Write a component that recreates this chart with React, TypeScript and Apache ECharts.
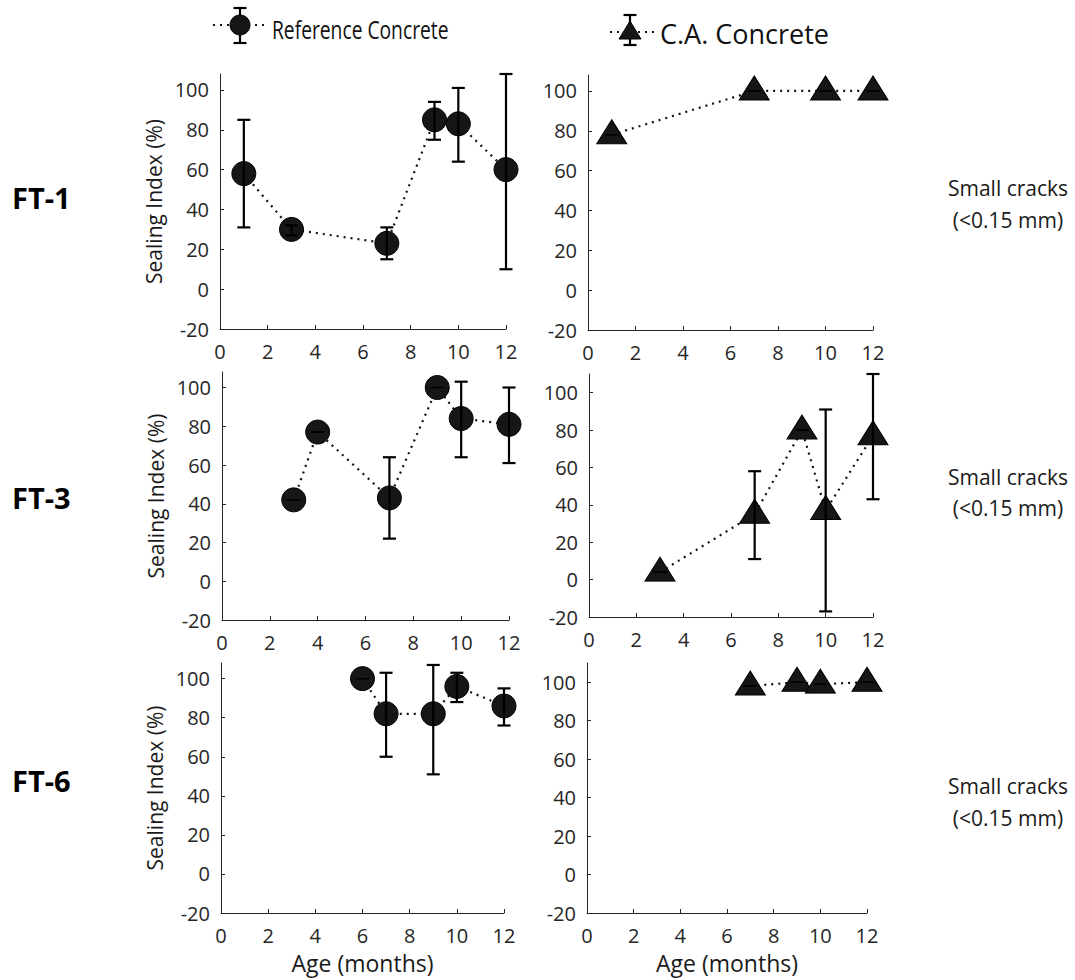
import React, { useEffect, useRef } from "react";
import * as echarts from "echarts";

// ---------- data ----------
const xTickValues = [0, 2, 4, 6, 8, 10, 12];
const yTickValues = [-20, 0, 20, 40, 60, 80, 100];

const rowLabels = ["FT-1", "FT-3", "FT-6"];
const crackLine1 = "Small cracks";
const crackLine2 = "(<0.15 mm)";
const legendRef = "Reference Concrete";
const legendCa = "C.A. Concrete";
const yName = "Sealing Index (%)";
const xName = "Age (months)";

// FT-1
const ft1RefX = [1, 3, 7, 9, 10, 12];
const ft1RefY = [58, 30, 23, 85, 83, 60];
const ft1RefLo = [31, 27, 15, 75, 64, 10];
const ft1RefHi = [85, 32, 31, 94, 101, 108];

const ft1CaX = [1, 7, 10, 12];
const ft1CaY = [78, 100, 100, 100];
const ft1CaLo = [78, 100, 100, 100];
const ft1CaHi = [78, 100, 100, 100];

// FT-3
const ft3RefX = [3, 4, 7, 9, 10, 12];
const ft3RefY = [42, 77, 43, 100, 84, 81];
const ft3RefLo = [42, 77, 22, 100, 64, 61];
const ft3RefHi = [42, 77, 64, 100, 103, 100];

const ft3CaX = [3, 7, 9, 10, 12];
const ft3CaY = [4, 35, 80, 37, 77];
const ft3CaLo = [4, 11, 80, -17, 43];
const ft3CaHi = [4, 58, 80, 91, 110];

// FT-6
const ft6RefX = [6, 7, 9, 10, 12];
const ft6RefY = [100, 82, 82, 96, 86];
const ft6RefLo = [100, 60, 51, 88, 76];
const ft6RefHi = [100, 103, 107, 103, 95];

const ft6CaX = [7, 9, 10, 12];
const ft6CaY = [98, 100, 99, 100];
const ft6CaLo = [98, 100, 99, 100];
const ft6CaHi = [98, 100, 99, 100];

// ---------- layout ----------
type PanelDef = {
  x: number[]; y: number[]; lo: number[]; hi: number[];
  kind: "ref" | "ca";
  left: number; top: number; width: number; height: number;
  ymax: number; showYName: boolean; showXName: boolean;
};

const panels: PanelDef[] = [
  { x: ft1RefX, y: ft1RefY, lo: ft1RefLo, hi: ft1RefHi, kind: "ref", left: 220, top: 74, width: 286, height: 255, ymax: 108, showYName: true, showXName: false },
  { x: ft1CaX, y: ft1CaY, lo: ft1CaLo, hi: ft1CaHi, kind: "ca", left: 588, top: 75, width: 285, height: 255, ymax: 108, showYName: false, showXName: false },
  { x: ft3RefX, y: ft3RefY, lo: ft3RefLo, hi: ft3RefHi, kind: "ref", left: 222, top: 372, width: 287, height: 248, ymax: 108, showYName: true, showXName: false },
  { x: ft3CaX, y: ft3CaY, lo: ft3CaLo, hi: ft3CaHi, kind: "ca", left: 589, top: 374, width: 284, height: 243, ymax: 110, showYName: false, showXName: false },
  { x: ft6RefX, y: ft6RefY, lo: ft6RefLo, hi: ft6RefHi, kind: "ref", left: 221, top: 663, width: 283, height: 250, ymax: 108, showYName: true, showXName: true },
  { x: ft6CaX, y: ft6CaY, lo: ft6CaLo, hi: ft6CaHi, kind: "ca", left: 587, top: 663, width: 280, height: 250, ymax: 110, showYName: false, showXName: true },
];

const FONT = "'Open Sans', 'Noto Sans', sans-serif";
const AXIS_COLOR = "#262626";
const MARK_FILL = "#161616";

function buildOption() {
  const grid: any[] = [];
  const xAxis: any[] = [];
  const yAxis: any[] = [];
  const series: any[] = [];

  panels.forEach((p, i) => {
    grid.push({ left: p.left, top: p.top, width: p.width, height: p.height, containLabel: false });
    xAxis.push({
      type: "value", gridIndex: i, min: 0, max: 12, interval: 2,
      axisLine: { show: true, onZero: false, lineStyle: { color: AXIS_COLOR, width: 1 } },
      axisTick: { show: true, inside: true, length: 4, lineStyle: { color: AXIS_COLOR }, customValues: xTickValues },
      axisLabel: { margin: 12, fontSize: 20, color: AXIS_COLOR, fontFamily: FONT, showMinLabel: true, showMaxLabel: true, customValues: xTickValues },
      splitLine: { show: false },
      name: p.showXName ? xName : "",
      nameLocation: "middle",
      nameGap: 38,
      nameTextStyle: { fontSize: 23, color: "#1a1a1a", fontFamily: FONT },
    });
    yAxis.push({
      type: "value", gridIndex: i, min: -20, max: p.ymax, interval: 20,
      axisLine: { show: true, onZero: false, lineStyle: { color: AXIS_COLOR, width: 1 } },
      axisTick: { show: true, inside: true, length: 4, lineStyle: { color: AXIS_COLOR }, customValues: yTickValues },
      axisLabel: {
        margin: 11, fontSize: 20, color: AXIS_COLOR, fontFamily: FONT,
        customValues: yTickValues,
        formatter: (v: number) => (yTickValues.includes(v) ? String(v) : ""),
      },
      splitLine: { show: false },
      name: p.showYName ? yName : "",
      nameLocation: "middle",
      nameGap: 56,
      nameRotate: 90,
      nameTextStyle: { fontSize: 21, color: "#1a1a1a", fontFamily: FONT },
    });

    const pts = p.x.map((xv, k) => [xv, p.y[k]]);
    series.push({
      type: "line", xAxisIndex: i, yAxisIndex: i, data: pts, symbol: "none",
      lineStyle: { color: "#111", width: 2.2, type: [2, 5] }, z: 1, silent: true,
    });
    series.push({
      type: "scatter", xAxisIndex: i, yAxisIndex: i, data: pts,
      symbol: p.kind === "ref" ? "circle" : "triangle",
      symbolSize: p.kind === "ref" ? 24 : [30, 24],
      symbolOffset: p.kind === "ref" ? [0, 0] : [0, -3],
      itemStyle: { color: MARK_FILL, borderColor: "#000", borderWidth: 1, opacity: 1 },
      z: 2, silent: true,
    });
    const ebData = p.x.map((xv, k) => [xv, p.lo[k], p.hi[k]]);
    series.push({
      type: "custom", xAxisIndex: i, yAxisIndex: i, data: ebData, z: 3, silent: true,
      encode: { x: 0, y: [1, 2] },
      renderItem: (params: any, api: any) => {
        const xv = api.value(0);
        const lo = api.value(1);
        const hi = api.value(2);
        const a = api.coord([xv, lo]);
        const b = api.coord([xv, hi]);
        const hw = 6.5;
        const zero = lo === hi;
        const style = { stroke: "#000", lineWidth: zero ? 1.3 : 2.2 };
        const children: any[] = [
          { type: "line", shape: { x1: a[0] - hw, y1: a[1], x2: a[0] + hw, y2: a[1] }, style },
          { type: "line", shape: { x1: b[0] - hw, y1: b[1], x2: b[0] + hw, y2: b[1] }, style },
        ];
        if (!zero) children.push({ type: "line", shape: { x1: a[0], y1: a[1], x2: b[0], y2: b[1] }, style });
        return { type: "group", children };
      },
    });
  });

  const rowCenters = [197, 497, 780];
  const crackCenters = [[188, 220], [477, 508], [786, 818]];

  const graphic: any[] = [];
  rowLabels.forEach((t, r) => {
    graphic.push({
      type: "text", x: 12, y: rowCenters[r],
      style: { text: t, fontSize: 29, fontWeight: "bold", fill: "#000", fontFamily: FONT, verticalAlign: "middle" },
    });
    graphic.push({
      type: "text", x: 1008, y: crackCenters[r][0],
      style: { text: crackLine1, fontSize: 21, fill: "#1a1a1a", fontFamily: FONT, align: "center", verticalAlign: "middle" },
    });
    graphic.push({
      type: "text", x: 1008, y: crackCenters[r][1],
      style: { text: crackLine2, fontSize: 21, fill: "#1a1a1a", fontFamily: FONT, align: "center", verticalAlign: "middle" },
    });
  });

  // legend item 1: dotted line, error bar, circle
  const dot = { stroke: "#111", lineWidth: 2.2, lineDash: [2, 5] };
  const eb = { stroke: "#000", lineWidth: 2.2 };
  graphic.push({ type: "line", shape: { x1: 213, y1: 25, x2: 268, y2: 25 }, style: dot });
  graphic.push({ type: "line", shape: { x1: 240, y1: 8, x2: 240, y2: 43 }, style: eb });
  graphic.push({ type: "line", shape: { x1: 233.5, y1: 8, x2: 246.5, y2: 8 }, style: eb });
  graphic.push({ type: "line", shape: { x1: 233.5, y1: 43, x2: 246.5, y2: 43 }, style: eb });
  graphic.push({ type: "circle", shape: { cx: 240, cy: 25, r: 10 }, style: { fill: MARK_FILL, stroke: "#000", lineWidth: 1 } });
  graphic.push({
    type: "text", x: 272, y: 29, scaleX: 0.77,
    style: { text: legendRef, fontSize: 25, fill: "#111", fontFamily: FONT, verticalAlign: "middle" },
  });

  // legend item 2: dotted line, error bar, triangle
  graphic.push({ type: "line", shape: { x1: 610, y1: 32, x2: 655, y2: 32 }, style: dot });
  graphic.push({ type: "line", shape: { x1: 630, y1: 15, x2: 630, y2: 45 }, style: eb });
  graphic.push({ type: "line", shape: { x1: 623.5, y1: 15, x2: 636.5, y2: 15 }, style: eb });
  graphic.push({ type: "line", shape: { x1: 623.5, y1: 45, x2: 636.5, y2: 45 }, style: eb });
  graphic.push({ type: "polygon", shape: { points: [[630, 21], [619, 39], [641, 39]] }, style: { fill: MARK_FILL, stroke: "#000", lineWidth: 1 } });
  graphic.push({
    type: "text", x: 660, y: 33,
    style: { text: legendCa, fontSize: 27, fill: "#111", fontFamily: FONT, verticalAlign: "middle" },
  });

  return {
    animation: false,
    backgroundColor: "#fff",
    grid, xAxis, yAxis, series, graphic,
  };
}

export default function App() {
  const ref = useRef<HTMLDivElement | null>(null);
  useEffect(() => {
    if (!ref.current) return;
    const chart = echarts.init(ref.current, null, { renderer: "svg" });
    chart.setOption(buildOption() as any);
    return () => chart.dispose();
  }, []);
  return (
    <div
      ref={ref}
      style={{ position: "absolute", left: 0, top: 0, width: 1075, height: 980, background: "#fff" }}
    />
  );
}
